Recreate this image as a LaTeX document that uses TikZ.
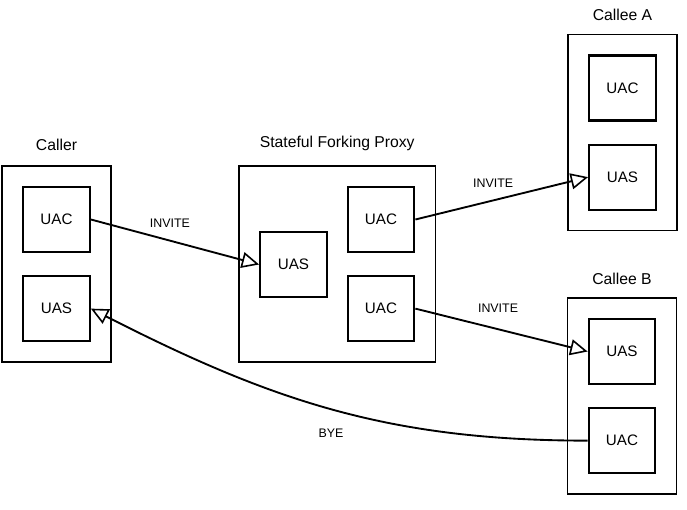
\documentclass[tikz,border=0pt]{standalone}
\usepackage{fontspec}
\setmainfont{Liberation Sans}
\usepackage{tikz}
\usetikzlibrary{positioning}
\usetikzlibrary{arrows.meta}
\usetikzlibrary{chains,fit}

\begin{document}
\begin{tikzpicture}[x=0.75pt,y=-0.75pt,
  every node/.style={font=\fontsize{11.4}{13}\selectfont},
  agent/.style={draw,line width=1.6pt,minimum width=50pt,minimum height=48.75pt,inner sep=0pt},
  every fit/.style={draw,line width=1.1pt,inner sep=15pt},
  title/.style={inner sep=0pt,text depth=0pt,font=\fontsize{11.8}{13}\selectfont},
  msg/.style={line width=1.4pt,-{Triangle[open,length=13pt,width=12pt,line width=1.2pt]}},
  msglabel/.style={inner sep=0pt,text depth=0pt,font=\fontsize{9.3}{11}\selectfont}]

\useasboundingbox (0,0) rectangle (687,510);

% caller
\begin{scope}[shift={(56.5,219.5)},start chain=going below,node distance=16.5pt]
\foreach \n/\t in {cuac/UAC,cuas/UAS}
  \node[agent,on chain] (\n) {\t};
\end{scope}

% proxy
\node[agent] (puas) at (293.5,264.5) {UAS};
\begin{scope}[shift={(381,219.5)},start chain=going below,node distance=16.5pt]
\foreach \n in {1,2}
  \node[agent,on chain] (puac\n) {UAC};
\end{scope}

% callee A
\begin{scope}[shift={(622.5,88)},start chain=going below,node distance=16.5pt]
\foreach \n/\t in {cauac/UAC,cauas/UAS}
  \node[agent,on chain] (\n) {\t};
\end{scope}

% callee B
\begin{scope}[shift={(622,351.5)},start chain=going below,node distance=16.5pt]
\foreach \n/\t in {cbuas/UAS,cbuac/UAC}
  \node[agent,on chain] (\n) {\t};
\end{scope}

\node[fit=(cuac) (cuas)] (caller) {};
\node[fit=(puas) (puac1) (puac2)] (proxy) {};
\node[fit=(cauac) (cauas)] (calleea) {};
\node[fit=(cbuas) (cbuac)] (calleeb) {};

\node[title,above=10.5pt of caller] (callerlbl) {Caller};
\node[title,above=13pt of proxy] (proxylbl) {Stateful Forking Proxy};
\node[title,above=9.5pt of calleea] (calleealbl) {Callee A};
\node[title,above=9pt of calleeb] (calleeblbl) {Callee B};

\draw[msg] (cuac.east) -- node[msglabel,pos=.47,above=9.5pt] {INVITE} (puas.west);
\draw[msg] (puac1.east) -- node[msglabel,pos=.45,above=8.8pt] {INVITE} (cauas.west);
\draw[msg] (puac2.east) -- node[msglabel,pos=.48,above=11.5pt] {INVITE} (cbuas.west);
\draw[msg] (cbuac.west) to[out=180,in=-27] node[msglabel,pos=.5,below=14.5pt] {BYE} (cuas.east);
\end{tikzpicture}
\end{document}
